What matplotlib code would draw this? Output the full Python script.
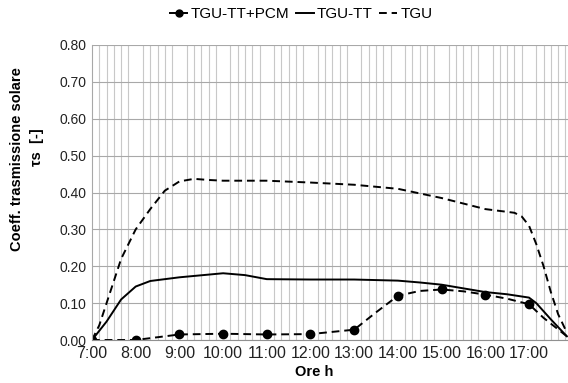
#!/usr/bin/env python3
# -*- coding: utf-8 -*-
"""
Coefficiente di trasmissione solare nel corso della giornata (TGU, TGU-TT, TGU-TT+PCM).
"""
import numpy as np
import matplotlib
matplotlib.use("Agg")
import matplotlib.pyplot as plt
from matplotlib.lines import Line2D

plt.rcParams['font.family'] = ['Liberation Sans', 'DejaVu Sans']

# ----------------------------------------------------------------------
# Dati (ora "HH:MM", valore)
tgu_ore = ["7:00", "7:10", "7:20", "7:30", "7:40", "8:00", "8:20", "8:40", "9:00",
           "9:20", "9:40", "10:00", "11:00", "12:00", "13:00", "14:00", "15:00",
           "16:00", "16:40", "16:50", "17:00", "17:10", "17:20", "17:30", "17:40", "17:52"]
tgu_val = [0.00, 0.04, 0.10, 0.16, 0.22, 0.30, 0.355, 0.405, 0.430,
           0.437, 0.434, 0.432, 0.432, 0.427, 0.421, 0.410, 0.385,
           0.355, 0.345, 0.335, 0.310, 0.260, 0.200, 0.130, 0.070, 0.020]

tt_ore = ["7:00", "7:20", "7:40", "8:00", "8:20", "9:00", "10:00", "10:30", "11:00",
          "12:00", "13:00", "14:00", "14:30", "15:00", "15:30", "16:00", "16:30",
          "17:00", "17:10", "17:20", "17:30", "17:40", "17:52"]
tt_val = [0.000, 0.050, 0.110, 0.145, 0.160, 0.170, 0.181, 0.176, 0.165,
          0.164, 0.164, 0.161, 0.156, 0.150, 0.140, 0.130, 0.124,
          0.115, 0.100, 0.078, 0.056, 0.035, 0.010]

pcm_ore = ["7:00", "8:00", "9:00", "10:00", "11:00", "12:00", "13:00", "13:30",
           "14:00", "14:30", "15:00", "15:30", "16:00", "16:30", "17:00", "17:20", "17:52"]
pcm_val = [0.000, 0.000, 0.015, 0.017, 0.015, 0.016, 0.028, 0.075,
           0.120, 0.133, 0.137, 0.132, 0.123, 0.112, 0.097, 0.060, 0.010]

ore_tick = ["7:00", "8:00", "9:00", "10:00", "11:00", "12:00",
            "13:00", "14:00", "15:00", "16:00", "17:00"]


def in_ore(lst):
    out = []
    for s in lst:
        h, m = s.split(":")
        out.append(int(h) + int(m) / 60.0)
    return np.array(out)


# ----------------------------------------------------------------------
fig = plt.figure(figsize=(5.68, 3.83), dpi=100)
ax = fig.add_axes([92 / 568, 1 - 340 / 383, (572.7 - 92) / 568, (340 - 45) / 383])

tratt = (0, (4, 2.5))
ax.plot(in_ore(tgu_ore), tgu_val, color='black', lw=1.4, linestyle=tratt)
ax.plot(in_ore(tt_ore), tt_val, color='black', lw=1.4)
x_pcm = in_ore(pcm_ore)
marc = [i for i, t in enumerate(pcm_ore) if t.endswith(":00")]
ax.plot(x_pcm, pcm_val, color='black', lw=1.4, linestyle=tratt,
        marker='o', markersize=6, markevery=marc)

ax.set_xlim(7, 18)
ax.set_ylim(0, 0.8)
ax.set_xticks(in_ore(ore_tick))
ax.set_xticklabels(ore_tick, fontsize=11.5)
ax.set_xticks(np.arange(7, 18.01, 1 / 6), minor=True)
ax.set_yticks(np.arange(0, 0.81, 0.1))
ax.set_yticklabels([f"{v:.2f}" for v in np.arange(0, 0.81, 0.1)], fontsize=10)
ax.tick_params(which='both', length=0, pad=4, colors='#222222')

ax.grid(True, which='minor', axis='x', color='#c8c8c8', lw=0.8)
ax.grid(True, which='major', axis='y', color='#a8a8a8', lw=0.8)
ax.set_axisbelow(True)
for lato in ['top', 'right']:
    ax.spines[lato].set_visible(False)
ax.spines['left'].set_color('#a8a8a8')
ax.spines['bottom'].set_color('#909090')

# Etichette assi
fig.text(17 / 568, 1 - 159 / 383, "Coeff. trasmissione solare", rotation=90,
         ha='center', va='center', fontsize=10.5, fontweight='bold')
fig.text(37 / 568, 1 - 147 / 383, "τs  [-]", rotation=90,
         ha='center', va='center', fontsize=10.5, fontweight='bold')
fig.text(314 / 568, 1 - 372 / 383, "Ore h", ha='center', va='center',
         fontsize=10.5, fontweight='bold')

# Legenda
maniglie = [
    Line2D([], [], color='black', lw=1.4, linestyle=tratt, marker='o', markersize=5),
    Line2D([], [], color='black', lw=1.4),
    Line2D([], [], color='black', lw=1.4, linestyle=tratt),
]
fig.legend(maniglie, ["TGU-TT+PCM", "TGU-TT", "TGU"], loc='center',
           bbox_to_anchor=(301 / 568, 1 - 14 / 383), ncol=3, frameon=False,
           fontsize=11, handlelength=1.2, handletextpad=0.2, columnspacing=0.4)

fig.savefig("out.png", dpi=100)
